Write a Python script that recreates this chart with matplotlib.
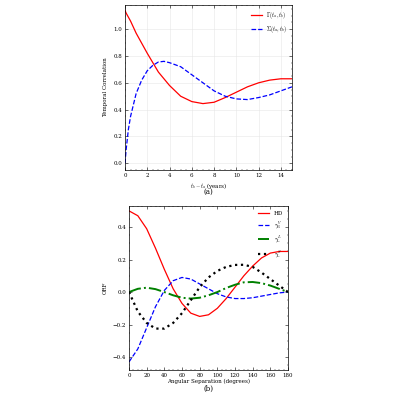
import numpy as np
import matplotlib
matplotlib.use('Agg')
import matplotlib.pyplot as plt

plt.rcParams['font.family'] = 'DejaVu Serif'
plt.rcParams['mathtext.fontset'] = 'cm'
plt.rcParams['font.size'] = 4

# panel (a)
t_lag = [0, 0.1, 0.3, 0.5, 1, 1.5, 2, 2.5, 3, 3.5, 4, 5, 6, 7, 8, 9, 10, 11, 12, 13, 14, 15]
gamma_t = [1.14, 1.12, 1.09, 1.06, 0.97, 0.895, 0.82, 0.75, 0.68, 0.63, 0.58, 0.50, 0.46, 0.445,
           0.455, 0.49, 0.53, 0.57, 0.60, 0.62, 0.63, 0.63]
sigma_t = [0.0, 0.10, 0.25, 0.35, 0.52, 0.62, 0.69, 0.73, 0.755, 0.76, 0.75, 0.72, 0.66, 0.60,
           0.54, 0.50, 0.48, 0.475, 0.49, 0.51, 0.54, 0.57]

# panel (b)
ang = [0, 10, 20, 30, 40, 50, 60, 70, 80, 90, 100, 110, 120, 130, 140, 150, 160, 170, 180]
hd = [0.5, 0.47, 0.39, 0.27, 0.14, 0.02, -0.07, -0.13, -0.15, -0.14, -0.10, -0.04, 0.03,
      0.10, 0.16, 0.21, 0.24, 0.25, 0.25]
gv = [-0.43, -0.35, -0.22, -0.09, 0.01, 0.07, 0.09, 0.08, 0.05, 0.02, -0.01, -0.03, -0.04,
      -0.04, -0.035, -0.025, -0.015, -0.005, 0.0]
gl = [0, 0.02, 0.027, 0.018, 0.0, -0.02, -0.035, -0.04, -0.035, -0.02, 0.0, 0.025, 0.045,
      0.06, 0.062, 0.055, 0.04, 0.02, 0.0]
gs = [0, -0.12, -0.19, -0.225, -0.225, -0.19, -0.13, -0.05, 0.03, 0.09, 0.13, 0.155, 0.167,
      0.168, 0.155, 0.12, 0.08, 0.04, 0.0]

fig = plt.figure(figsize=(4, 4), dpi=100)
ax1 = fig.add_axes([0.3125, 0.575, 0.4175, 0.4125])
ax2 = fig.add_axes([0.3225, 0.075, 0.3975, 0.41])

ax1.plot(t_lag, gamma_t, color='red', lw=0.9, label=r'$\Gamma(t_a,t_b)$')
ax1.plot(t_lag, sigma_t, color='blue', lw=0.9, ls='--', label=r'$\Sigma(t_a,t_b)$')
ax1.set_xlim(0, 15)
ax1.set_ylim(-0.05, 1.18)
ax1.set_xticks(range(0, 16, 2))
ax1.set_yticks([0, 0.2, 0.4, 0.6, 0.8, 1.0])
ax1.set_xlabel(r'$t_b - t_a$ (years)', labelpad=2)
ax1.set_ylabel('Temporal Correlation')
ax1.grid(color='#e6e6e6', lw=0.4)
ax1.legend(loc='upper right', frameon=False, fontsize=4)
fig.text(0.52, 0.515, '(a)', ha='center', fontsize=5)

ax2.plot(ang, hd, color='red', lw=0.9, label='HD')
ax2.plot(ang, gv, color='blue', lw=0.9, ls='--', label=r'$\gamma_{\rm B}^{V}$')
ax2.plot(ang, gl, color='green', lw=1.4, ls='-.', label=r'$\gamma_{\rm L}^{L}$')
ax2.plot(ang, gs, color='black', lw=1.6, ls=':', label=r'$\gamma_{\rm L}^{S}$')
ax2.set_xlim(0, 180)
ax2.set_ylim(-0.48, 0.53)
ax2.set_xticks(range(0, 181, 20))
ax2.set_yticks([-0.4, -0.2, 0.0, 0.2, 0.4])
ax2.set_xlabel('Angular Separation (degrees)', labelpad=1)
ax2.set_ylabel('ORF')
ax2.legend(loc='upper right', frameon=False, fontsize=4)
fig.text(0.52, 0.022, '(b)', ha='center', fontsize=5)

for ax in (ax1, ax2):
    ax.tick_params(direction='in', top=True, right=True, length=2, width=0.4, pad=2)
    ax.minorticks_on()
    ax.tick_params(which='minor', direction='in', top=True, right=True, length=1, width=0.3)
    for s in ax.spines.values():
        s.set_linewidth(0.5)

fig.savefig('out.png', dpi=100)
